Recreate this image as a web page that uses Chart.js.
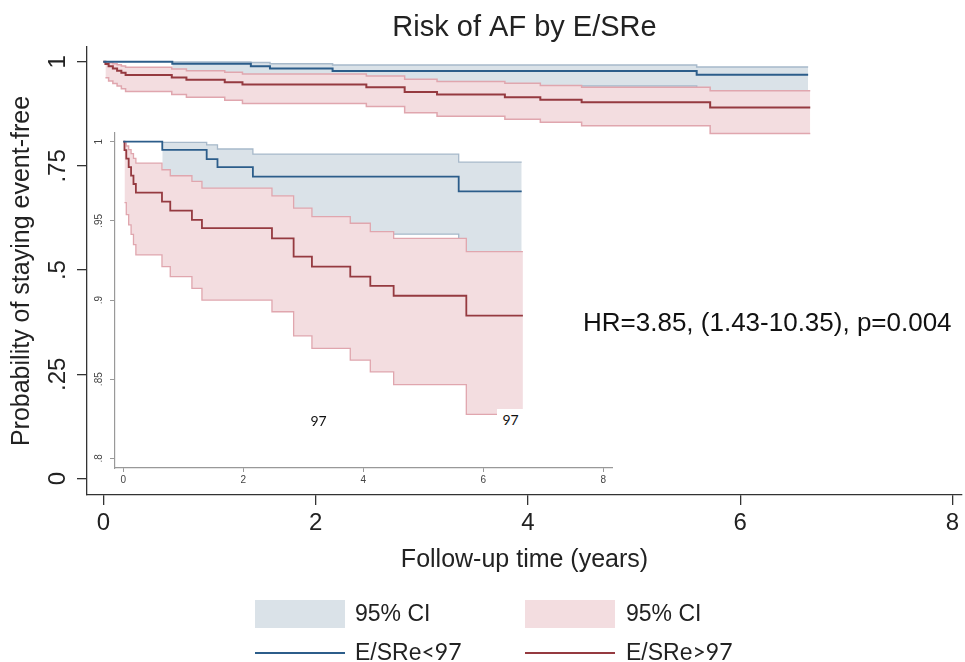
<!DOCTYPE html>
<html lang="en">
<head>
  <meta charset="UTF-8" />
  <title>Risk of AF by E/SRe</title>
  <script src="https://cdn.jsdelivr.net/npm/chart.js"></script>
  <style>
    body { margin: 0; background: #fff; font-family: 'Liberation Sans', Arial, sans-serif; color: #222; }
    #wrap { position: relative; width: 965px; height: 662px; overflow: hidden; }
    canvas { position: absolute; }
    #main { left: 0; top: 0; }
    #inset { left: 89px; top: 125px; }
    .txt { position: absolute; white-space: nowrap; }
    .hr { left: 583px; top: 307px; font-size: 26px; line-height: 30px; color: #111; }
    .n { font-family: Lato, 'Liberation Sans', sans-serif; font-size: 14px; line-height: 22px; color: #111; text-align: center; width: 27px; }
    .box { position: absolute; width: 90px; height: 28px; top: 600px; }
    .ln { position: absolute; width: 90px; height: 2px; top: 652px; }
    .leg { font-size: 23px; line-height: 28px; }
    .cal { font-family: Lato, 'Liberation Sans', sans-serif; }
  </style>
</head>
<body>
  <div id="wrap">
    <canvas id="main" width="965" height="662"></canvas>
    <canvas id="inset" width="531" height="365"></canvas>

    <div class="txt hr">HR=3.85, (1.43-10.35), p=0.004</div>
    <div class="txt n" style="left:305px; top:410px;">97</div>
    <div class="txt n" style="left:497px; top:409px; background:#fff;">97</div>

    <div class="box" style="left:255px; background:#dae2e8;"></div>
    <div class="txt leg" style="left:355px; top:599px;">95% CI</div>
    <div class="box" style="left:525px; background:#f3dde0;"></div>
    <div class="txt leg" style="left:626px; top:599px;">95% CI</div>
    <div class="ln" style="left:255px; background:#2c5d8a;"></div>
    <div class="txt leg" style="left:355px; top:637px;">E/SRe<span class="cal">&lt;97</span></div>
    <div class="ln" style="left:525px; background:#953a40;"></div>
    <div class="txt leg" style="left:626px; top:637px;">E/SRe<span class="cal">&gt;97</span></div>
  </div>

  <script>
    // ticks
    const xTicks = [0, 2, 4, 6, 8];
    const yTicks = [0, 0.25, 0.5, 0.75, 1];
    const yTickLabels = ["0", ".25", ".5", ".75", "1"];
    const insetYTicks = [0.8, 0.85, 0.9, 0.95, 1];
    const insetYTickLabels = [".8", ".85", ".9", ".95", "1"];

    // E/SRe<97 : Kaplan-Meier + 95% CI
    const lowTime = [0, 0.65, 1.39, 1.57, 2.16, 5.59, 6.64];
    const lowSurv = [1, 0.9949, 0.989, 0.984, 0.978, 0.9686, 0.9686];
    const lowCiTime = [0.65, 1.39, 1.57, 2.16, 5.59, 6.64];
    const lowUpper = [0.9996, 0.998, 0.9954, 0.9922, 0.9871, 0.9871];
    const lowLower = [0.965, 0.958, 0.951, 0.9416, 0.9306, 0.9306];

    // E/SRe>97
    const highTime = [0, 0.02, 0.05, 0.09, 0.13, 0.17, 0.21, 0.645, 0.783, 1.144, 1.311, 2.478, 2.839, 3.144, 3.783, 4.117, 4.506, 5.717, 6.66];
    const highSurv = [1, 0.9947, 0.9893, 0.984, 0.9786, 0.9733, 0.9679, 0.9622, 0.9565, 0.9506, 0.9454, 0.939, 0.9274, 0.9211, 0.9148, 0.9089, 0.9027, 0.8901, 0.8901];
    const highCiTime = [0.02, 0.05, 0.09, 0.13, 0.17, 0.21, 0.645, 0.783, 1.144, 1.311, 2.478, 2.839, 3.144, 3.783, 4.117, 4.506, 5.717, 6.66];
    const highUpper = [0.9993, 0.9973, 0.995, 0.9925, 0.9895, 0.9865, 0.9823, 0.9785, 0.9749, 0.9707, 0.9658, 0.958, 0.9527, 0.9485, 0.9432, 0.939, 0.9306, 0.9306];
    const highLower = [0.9615, 0.954, 0.9475, 0.9415, 0.935, 0.9285, 0.9211, 0.9148, 0.9074, 0.9, 0.8926, 0.8774, 0.8694, 0.862, 0.8546, 0.8466, 0.8278, 0.8278];

    const FONT = "'Liberation Sans', Arial, sans-serif";
    const BLUE = "#2c5d8a", RED = "#953a40";
    const BLUE_CI = "#a7b9ca", RED_CI = "#e0a6ae";
    const BLUE_FILL = "#dae2e8", RED_FILL = "#f3dde0";

    function pts(times, vals) {
      return times.map((t, i) => ({ x: t, y: vals[i] }));
    }

    // drawn last-to-first: blue band, then red band over it, then the two curves
    function datasets(lw, ciw) {
      const base = { stepped: "before", pointRadius: 0, fill: false };
      return [
        { ...base, data: pts(lowTime, lowSurv), borderColor: BLUE, borderWidth: lw },
        { ...base, data: pts(highTime, highSurv), borderColor: RED, borderWidth: lw },
        { ...base, data: pts(highCiTime, highUpper), borderColor: RED_CI, borderWidth: ciw },
        { ...base, data: pts(highCiTime, highLower), borderColor: RED_CI, borderWidth: ciw, fill: "-1", backgroundColor: RED_FILL },
        { ...base, data: pts(lowCiTime, lowUpper), borderColor: BLUE_CI, borderWidth: ciw },
        { ...base, data: pts(lowCiTime, lowLower), borderColor: BLUE_CI, borderWidth: ciw, fill: "-1", backgroundColor: BLUE_FILL }
      ];
    }

    // Stata style rotated y tick labels
    const rotatedYTicks = {
      id: "rotatedYTicks",
      afterDraw(chart, args, opts) {
        const scale = chart.scales.y;
        const ctx = chart.ctx;
        ctx.save();
        ctx.font = opts.font;
        ctx.fillStyle = opts.color;
        ctx.textAlign = "center";
        ctx.textBaseline = "middle";
        scale.ticks.forEach((t, i) => {
          ctx.save();
          ctx.translate(scale.right - opts.offset, scale.getPixelForValue(t.value));
          ctx.rotate(-Math.PI / 2);
          ctx.fillText(opts.labels[i], 0, 0);
          ctx.restore();
        });
        ctx.restore();
      }
    };

    new Chart(document.getElementById("main"), {
      type: "line",
      data: { datasets: datasets(2, 1.5) },
      plugins: [rotatedYTicks],
      options: {
        responsive: false,
        animation: false,
        layout: { padding: { top: 0, left: 0, right: 3, bottom: 82 } },
        plugins: {
          legend: { display: false },
          tooltip: { enabled: false },
          title: {
            display: true, fullSize: false, text: "Risk of AF by E/SRe", color: "#222",
            font: { family: FONT, size: 29, weight: "normal" }, padding: { top: 10.6, bottom: 1.6 }
          },
          rotatedYTicks: { labels: yTickLabels, offset: 29, font: "24px " + FONT, color: "#222" }
        },
        scales: {
          x: {
            type: "linear", min: -0.1536, max: 8.0895,
            afterBuildTicks: s => { s.ticks = xTicks.map(v => ({ value: v })); },
            afterFit: s => { s.height = 85; },
            ticks: { autoSkip: false, maxRotation: 0, padding: 3.6, color: "#222", font: { family: FONT, size: 24 }, callback: v => String(v) },
            grid: { drawOnChartArea: false, tickLength: 10, color: "#333", lineWidth: 1.3 },
            border: { color: "#333", width: 1.3 },
            title: { display: true, text: "Follow-up time (years)", color: "#222", font: { family: FONT, size: 25 }, padding: { top: 0, bottom: 5 } }
          },
          y: {
            min: -0.0396, max: 1.0353,
            afterBuildTicks: s => { s.ticks = yTicks.map(v => ({ value: v })); },
            afterFit: s => { s.width = 87; },
            ticks: { display: false },
            grid: { drawOnChartArea: false, tickLength: 10, color: "#333", lineWidth: 1.3 },
            border: { color: "#333", width: 1.3 },
            title: { display: true, text: "Probability of staying event-free", color: "#222", font: { family: FONT, size: 25 }, padding: { top: 7, bottom: 0 } }
          }
        }
      }
    });

    new Chart(document.getElementById("inset"), {
      type: "line",
      data: { datasets: datasets(1.8, 1.3) },
      plugins: [rotatedYTicks],
      options: {
        responsive: false,
        animation: false,
        layout: { padding: { top: 8, left: 0, right: 8, bottom: 0 } },
        plugins: {
          legend: { display: false },
          tooltip: { enabled: false },
          rotatedYTicks: { labels: insetYTickLabels, offset: 16, font: "10px " + FONT, color: "#444" }
        },
        scales: {
          x: {
            type: "linear", min: -0.138, max: 8.145,
            afterBuildTicks: s => { s.ticks = xTicks.map(v => ({ value: v })); },
            afterFit: s => { s.height = 22; },
            ticks: { autoSkip: false, maxRotation: 0, padding: 2, color: "#444", font: { family: FONT, size: 10 }, callback: v => String(v) },
            grid: { drawOnChartArea: false, tickLength: 4, color: "#999", lineWidth: 1 },
            border: { color: "#999", width: 1.2 }
          },
          y: {
            min: 0.7939, max: 1.0055,
            afterBuildTicks: s => { s.ticks = insetYTicks.map(v => ({ value: v })); },
            afterFit: s => { s.width = 26; },
            ticks: { display: false },
            grid: { drawOnChartArea: false, tickLength: 5, color: "#999", lineWidth: 1 },
            border: { color: "#999", width: 1.2 }
          }
        }
      }
    });
  </script>
</body>
</html>
